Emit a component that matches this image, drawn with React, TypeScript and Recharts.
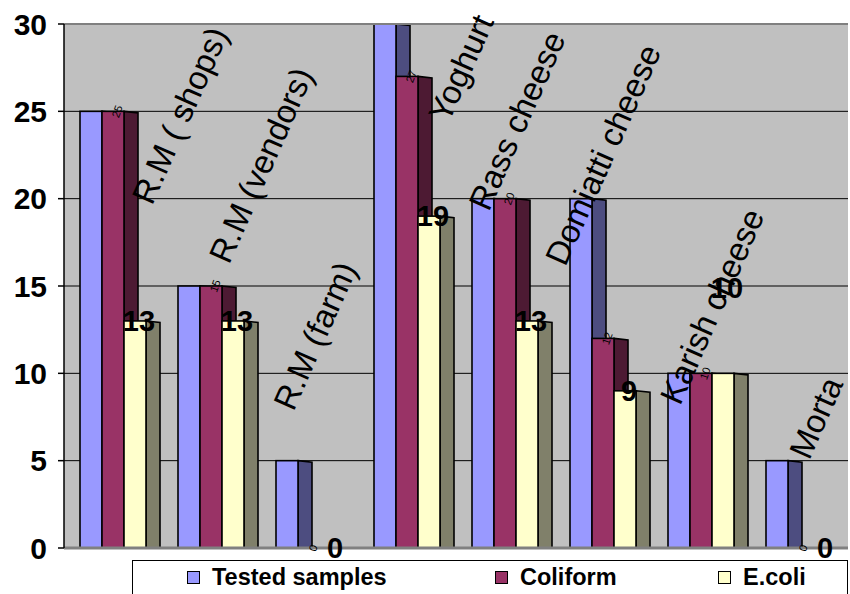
import React from "react";
import {
  BarChart,
  Bar,
  XAxis,
  YAxis,
  CartesianGrid,
  ReferenceLine,
  LabelList,
} from "recharts";

const categories = [
  "R.M ( shops)",
  "R.M (vendors)",
  "R.M (farm)",
  "Yoghurt",
  "Rass cheese",
  "Domiatti cheese",
  "Karish cheese",
  "Morta",
];
const testedSamples = [25, 15, 5, 30, 20, 20, 10, 5];
const coliform = [25, 15, 0, 27, 20, 12, 10, 0];
const ecoli = [13, 13, 0, 19, 13, 9, 10, 0];
const yTicks = [0, 5, 10, 15, 20, 25, 30];
const seriesNames = ["Tested samples", "Coliform", "E.coli"];

// front / side colours of the pseudo 3D bars
const FRONT = ["#9999FF", "#993366", "#FFFFCC"];
const SIDE = ["#4D4D80", "#4D1A33", "#80806A"];

// nudges (px) of the rotated name labels from the top of the tested bar
const nameShift = [
  [89, 4],
  [72, -121],
  [28, -125],
  [76, 44],
  [34, -78],
  [22, -44],
  [33, -67],
  [39, -43],
];
const ecoliShift = [0, 0, 0, 0, 0, 0, -85, 0];
const legendLeft = [54, 362, 585];

const data = categories.map((name, i) => ({
  name,
  tested: testedSamples[i],
  coliform: coliform[i],
  ecoli: ecoli[i],
}));

const FONT = "'Liberation Sans', Arial, sans-serif";
const DEPTH = 14;

const makeShape = (side: string) => (props: any) => {
  const { x, y, width, height, fill } = props;
  if (!height || height <= 0) return <g />;
  const r = x + width;
  return (
    <g>
      <polygon
        points={`${r},${y} ${r + DEPTH},${y + 1.5} ${r + DEPTH},${y + height} ${r},${y + height}`}
        fill={side}
        stroke="#000"
        strokeWidth={1.6}
      />
      <rect
        x={x}
        y={y}
        width={width}
        height={height}
        fill={fill}
        stroke="#000"
        strokeWidth={1.6}
      />
    </g>
  );
};

const NameLabel = (props: any) => {
  const { x, y, width, index } = props;
  const cx = x + width / 2 + nameShift[index][0];
  const cy = y + nameShift[index][1];
  return (
    <text
      x={cx}
      y={cy}
      textAnchor="middle"
      dominantBaseline="central"
      transform={`rotate(-66 ${cx} ${cy})`}
      fontFamily={FONT}
      fontSize={33}
      fill="#000"
    >
      {categories[index]}
    </text>
  );
};

const SmallLabel = (props: any) => {
  const { x, y, width, value } = props;
  const cx = x + width / 2 + 4;
  return (
    <text
      x={cx}
      y={y}
      textAnchor="middle"
      dominantBaseline="central"
      transform={`rotate(-70 ${cx} ${y})`}
      fontFamily={FONT}
      fontSize={11}
      fill="#000"
    >
      {value}
    </text>
  );
};

const EcoliLabel = (props: any) => {
  const { x, y, width, value, index } = props;
  const cx = x + width / 2 + 4;
  const cy = y + ecoliShift[index];
  return (
    <text
      x={cx}
      y={cy}
      textAnchor="middle"
      dominantBaseline="central"
      fontFamily={FONT}
      fontSize={29}
      fontWeight="bold"
      fill="#000"
    >
      {value}
    </text>
  );
};

export default function App() {
  return (
    <div
      style={{
        position: "absolute",
        left: 0,
        top: 0,
        width: 850,
        height: 594,
        background: "#fff",
        overflow: "hidden",
        fontFamily: FONT,
      }}
    >
      <BarChart
        width={850}
        height={594}
        data={data}
        margin={{ top: 24, right: 2, left: 0, bottom: 46 }}
        barSize={22}
        barGap={0}
      >
        <CartesianGrid
          vertical={false}
          stroke="#000"
          fill="#C0C0C0"
          fillOpacity={1}
        />
        <XAxis dataKey="name" hide />
        <YAxis
          width={64}
          domain={[0, 30]}
          ticks={yTicks}
          interval={0}
          tickSize={6}
          tickMargin={11}
          axisLine={{ stroke: "#000", strokeWidth: 1.5 }}
          tickLine={{ stroke: "#000", strokeWidth: 1.5 }}
          tick={{ fill: "#000", fontSize: 30, fontWeight: "bold", fontFamily: FONT }}
        />
        <ReferenceLine y={30} stroke="#808080" strokeWidth={2} />
        <ReferenceLine y={0} stroke="#808080" strokeWidth={3} />
        <Bar
          dataKey="tested"
          name={seriesNames[0]}
          fill={FRONT[0]}
          shape={makeShape(SIDE[0])}
          isAnimationActive={false}
        >
          <LabelList dataKey="tested" content={NameLabel} />
        </Bar>
        <Bar
          dataKey="coliform"
          name={seriesNames[1]}
          fill={FRONT[1]}
          shape={makeShape(SIDE[1])}
          isAnimationActive={false}
        >
          <LabelList dataKey="coliform" content={SmallLabel} />
        </Bar>
        <Bar
          dataKey="ecoli"
          name={seriesNames[2]}
          fill={FRONT[2]}
          shape={makeShape(SIDE[2])}
          isAnimationActive={false}
        >
          <LabelList dataKey="ecoli" content={EcoliLabel} />
        </Bar>
      </BarChart>
      <div
        style={{
          position: "absolute",
          left: 132,
          top: 560,
          width: 714,
          height: 44,
          border: "1px solid #000",
          background: "#fff",
        }}
      >
        {seriesNames.map((s, i) => (
          <div
            key={s}
            style={{
              position: "absolute",
              left: legendLeft[i],
              top: 0,
              height: 33,
              display: "flex",
              alignItems: "center",
              fontSize: 23.5,
              fontWeight: "bold",
              whiteSpace: "nowrap",
            }}
          >
            <span
              style={{
                display: "inline-block",
                width: 11,
                height: 11,
                border: "1px solid #000",
                background: FRONT[i],
                marginRight: 12,
              }}
            />
            {s}
          </div>
        ))}
      </div>
    </div>
  );
}
